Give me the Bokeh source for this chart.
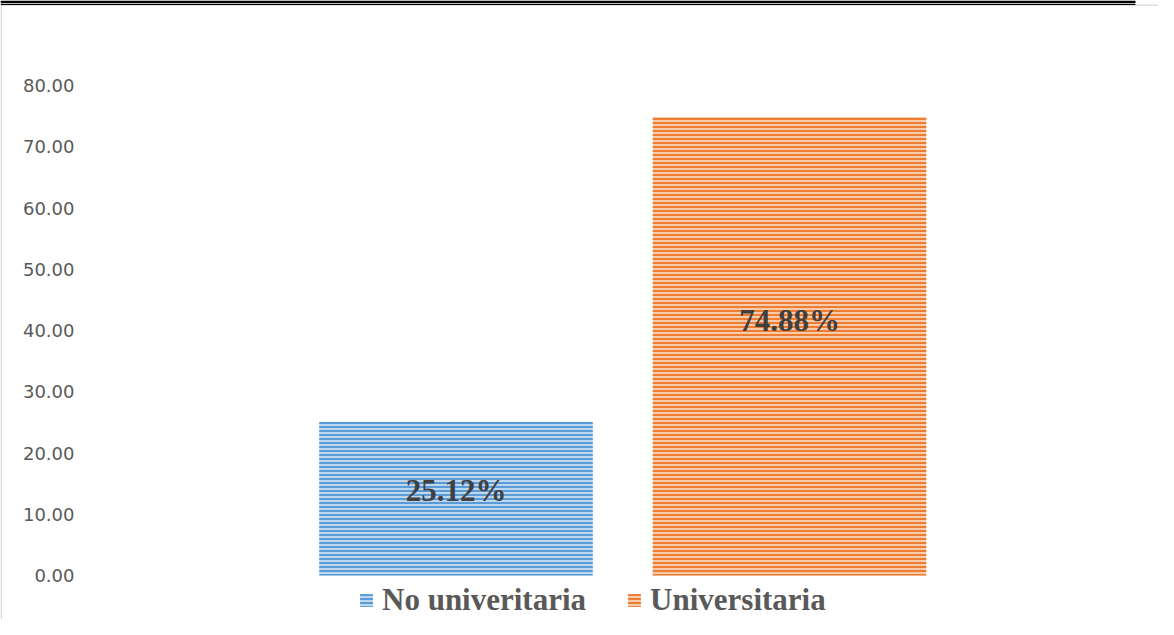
from bokeh.plotting import figure
from bokeh.models import (Range1d, LinearAxis, FixedTicker, PrintfTickFormatter,
                          BoxAnnotation, ColumnDataSource)
from bokeh.core.properties import value
from bokeh.embed import file_html
from bokeh.resources import INLINE

categories = ["No univeritaria", "Universitaria"]
vals = [25.12, 74.88]
labels = ["25.12%", "74.88%"]
fill_colors = ["#bdd7ee", "#f8cbad"]
hatch_colors = ["#5b9bd5", "#ed7d31"]
y_ticks = [0, 10, 20, 30, 40, 50, 60, 70, 80]

W, H = 1158, 619

p = figure(width=W, height=H, output_backend="svg", toolbar_location=None,
           x_range=Range1d(-0.8658, 2.6064), y_range=Range1d(-7.18, 93.88),
           min_border=0, x_axis_location=None, y_axis_location=None)
p.outline_line_color = None
p.grid.visible = False
p.background_fill_color = "white"
p.border_fill_color = "white"

src = ColumnDataSource(dict(
    x=[i + 0.5 for i in range(len(categories))],
    top=vals,
    cat=categories,
    fill=fill_colors,
    hatch=hatch_colors,
    lab=labels,
    ly=[v * 0.555 for v in vals],
))

p.vbar(x="x", top="top", bottom=0, width=0.82, source=src,
       fill_color="fill", line_color=None,
       hatch_pattern="horizontal_line", hatch_color="hatch",
       hatch_scale=4, hatch_weight=2, legend_field="cat")

p.text(x="x", y="ly", text="lab", source=src,
       text_font=value("Liberation Serif"), text_font_style="bold",
       text_font_size="31px", text_color="#404040",
       text_align="center", text_baseline="middle")

yaxis = LinearAxis(fixed_location=-0.644)
yaxis.ticker = FixedTicker(ticks=y_ticks)
yaxis.formatter = PrintfTickFormatter(format="%.2f")
yaxis.axis_line_color = None
yaxis.major_tick_line_color = None
yaxis.minor_tick_line_color = None
yaxis.major_tick_out = 0
yaxis.major_tick_in = 0
yaxis.major_label_standoff = 0
yaxis.major_label_text_font = "DejaVu Sans"
yaxis.major_label_text_font_size = "18px"
yaxis.major_label_text_color = "#595959"
p.add_layout(yaxis, "left")

def box(l, r, b, t, color):
    return BoxAnnotation(left=l, right=r, bottom=b, top=t,
                         left_units="screen", right_units="screen",
                         bottom_units="screen", top_units="screen",
                         fill_color=color, fill_alpha=1.0,
                         line_color=None, line_alpha=0)

# chart border (gray) and top double rule
p.add_layout(box(0, 1.5, 0, H - 4, "#d9d9d9"))
p.add_layout(box(0, W, H - 5.3, H - 4, "#d9d9d9"))
p.add_layout(box(0, 1135, H - 2.5, H, "black"))
p.add_layout(box(0, 1135, H - 4.5, H - 3.2, "black"))

lg = p.legend[0]
lg.orientation = "horizontal"
lg.location = (358, 1)
lg.label_text_font = "Liberation Serif"
lg.label_text_font_style = "bold"
lg.label_text_font_size = "31px"
lg.label_text_color = "#595959"
lg.glyph_width = 16
lg.glyph_height = 16
lg.label_standoff = 8
lg.spacing = 40
lg.padding = 0
lg.margin = 0
lg.border_line_color = None
lg.background_fill_alpha = 0

open("out.html", "w").write(file_html(p, INLINE))
